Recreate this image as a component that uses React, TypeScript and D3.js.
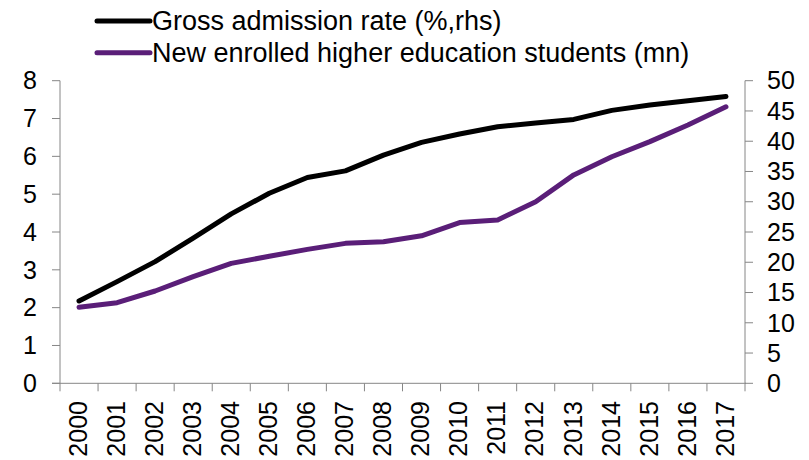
import React from "react";
import * as d3 from "d3";

const years = ["2000","2001","2002","2003","2004","2005","2006","2007","2008","2009","2010","2011","2012","2013","2014","2015","2016","2017"];
const grossAdmission = [13.6,16.8,20.1,24.0,28.0,31.4,34.0,35.1,37.7,39.8,41.2,42.4,43.0,43.6,45.1,46.0,46.7,47.4];
const newEnrolled = [2.01,2.13,2.44,2.82,3.17,3.36,3.54,3.70,3.74,3.90,4.25,4.32,4.80,5.51,5.99,6.39,6.83,7.31];
const leftTicks = [0,1,2,3,4,5,6,7,8];
const rightTicks = [0,5,10,15,20,25,30,35,40,45,50];
const legendLabels = ["Gross admission rate (%,rhs)", "New enrolled higher education students (mn)"];

const W = 809, H = 460;
const L = 60, R = 745, T = 80.7, B = 383.3;
const FONT = "'Liberation Sans', Arial, sans-serif";
const AXIS = "#868686";
const BLACK = "#000000";
const PURPLE = "#5a1e78";

export default function App() {
  const x = d3.scaleBand<string>().domain(years).range([L, R]).padding(0);
  const yL = d3.scaleLinear().domain([0, 8]).range([B, T]);
  const yR = d3.scaleLinear().domain([0, 50]).range([B, T]);
  const cx = (y: string) => (x(y) as number) + x.bandwidth() / 2;

  const lineR = d3.line<number>().x((_, i) => cx(years[i])).y((d) => yR(d));
  const lineL = d3.line<number>().x((_, i) => cx(years[i])).y((d) => yL(d));

  const boundaries = d3.range(years.length + 1).map((i) => L + i * x.bandwidth());

  return (
    <svg width={W} height={H} style={{ position: "absolute", left: 0, top: 0 }} fontFamily={FONT}>
      {/* legend */}
      {legendLabels.map((lab, i) => (
        <g key={lab}>
          <line x1={97} x2={150} y1={21 + i * 31.7} y2={21 + i * 31.7} stroke={i === 0 ? BLACK : PURPLE} strokeWidth={5} strokeLinecap="round" />
          <text x={152} y={30 + i * 31.7} fontSize={27} fill="#000">{lab}</text>
        </g>
      ))}

      {/* left axis */}
      <line x1={L} x2={L} y1={T} y2={B} stroke={AXIS} strokeWidth={1} />
      {leftTicks.map((t) => (
        <g key={"l" + t}>
          <line x1={L - 8} x2={L} y1={yL(t)} y2={yL(t)} stroke={AXIS} />
          <text x={37} y={yL(t)} dy="0.35em" textAnchor="end" fontSize={25} fill="#000">{t}</text>
        </g>
      ))}

      {/* right axis */}
      <line x1={R} x2={R} y1={T} y2={B} stroke={AXIS} strokeWidth={1} />
      {rightTicks.map((t) => (
        <g key={"r" + t}>
          <line x1={R} x2={R + 8} y1={yR(t)} y2={yR(t)} stroke={AXIS} />
          <text x={767} y={yR(t)} dy="0.35em" textAnchor="start" fontSize={25} fill="#000">{t}</text>
        </g>
      ))}

      {/* bottom axis */}
      <line x1={L - 8} x2={R + 1} y1={B} y2={B} stroke={AXIS} />
      {boundaries.map((bx, i) => (
        <line key={"b" + i} x1={bx} x2={bx} y1={B} y2={B + 8} stroke={AXIS} />
      ))}
      {years.map((y) => (
        <text key={y} transform={`translate(${cx(y) - 1},401) rotate(-90)`} textAnchor="end" dy="0.35em" fontSize={25} fill="#000">{y}</text>
      ))}

      {/* series */}
      <path d={lineR(grossAdmission) || ""} fill="none" stroke={BLACK} strokeWidth={5} strokeLinejoin="round" strokeLinecap="round" />
      <path d={lineL(newEnrolled) || ""} fill="none" stroke={PURPLE} strokeWidth={5} strokeLinejoin="round" strokeLinecap="round" />
    </svg>
  );
}
